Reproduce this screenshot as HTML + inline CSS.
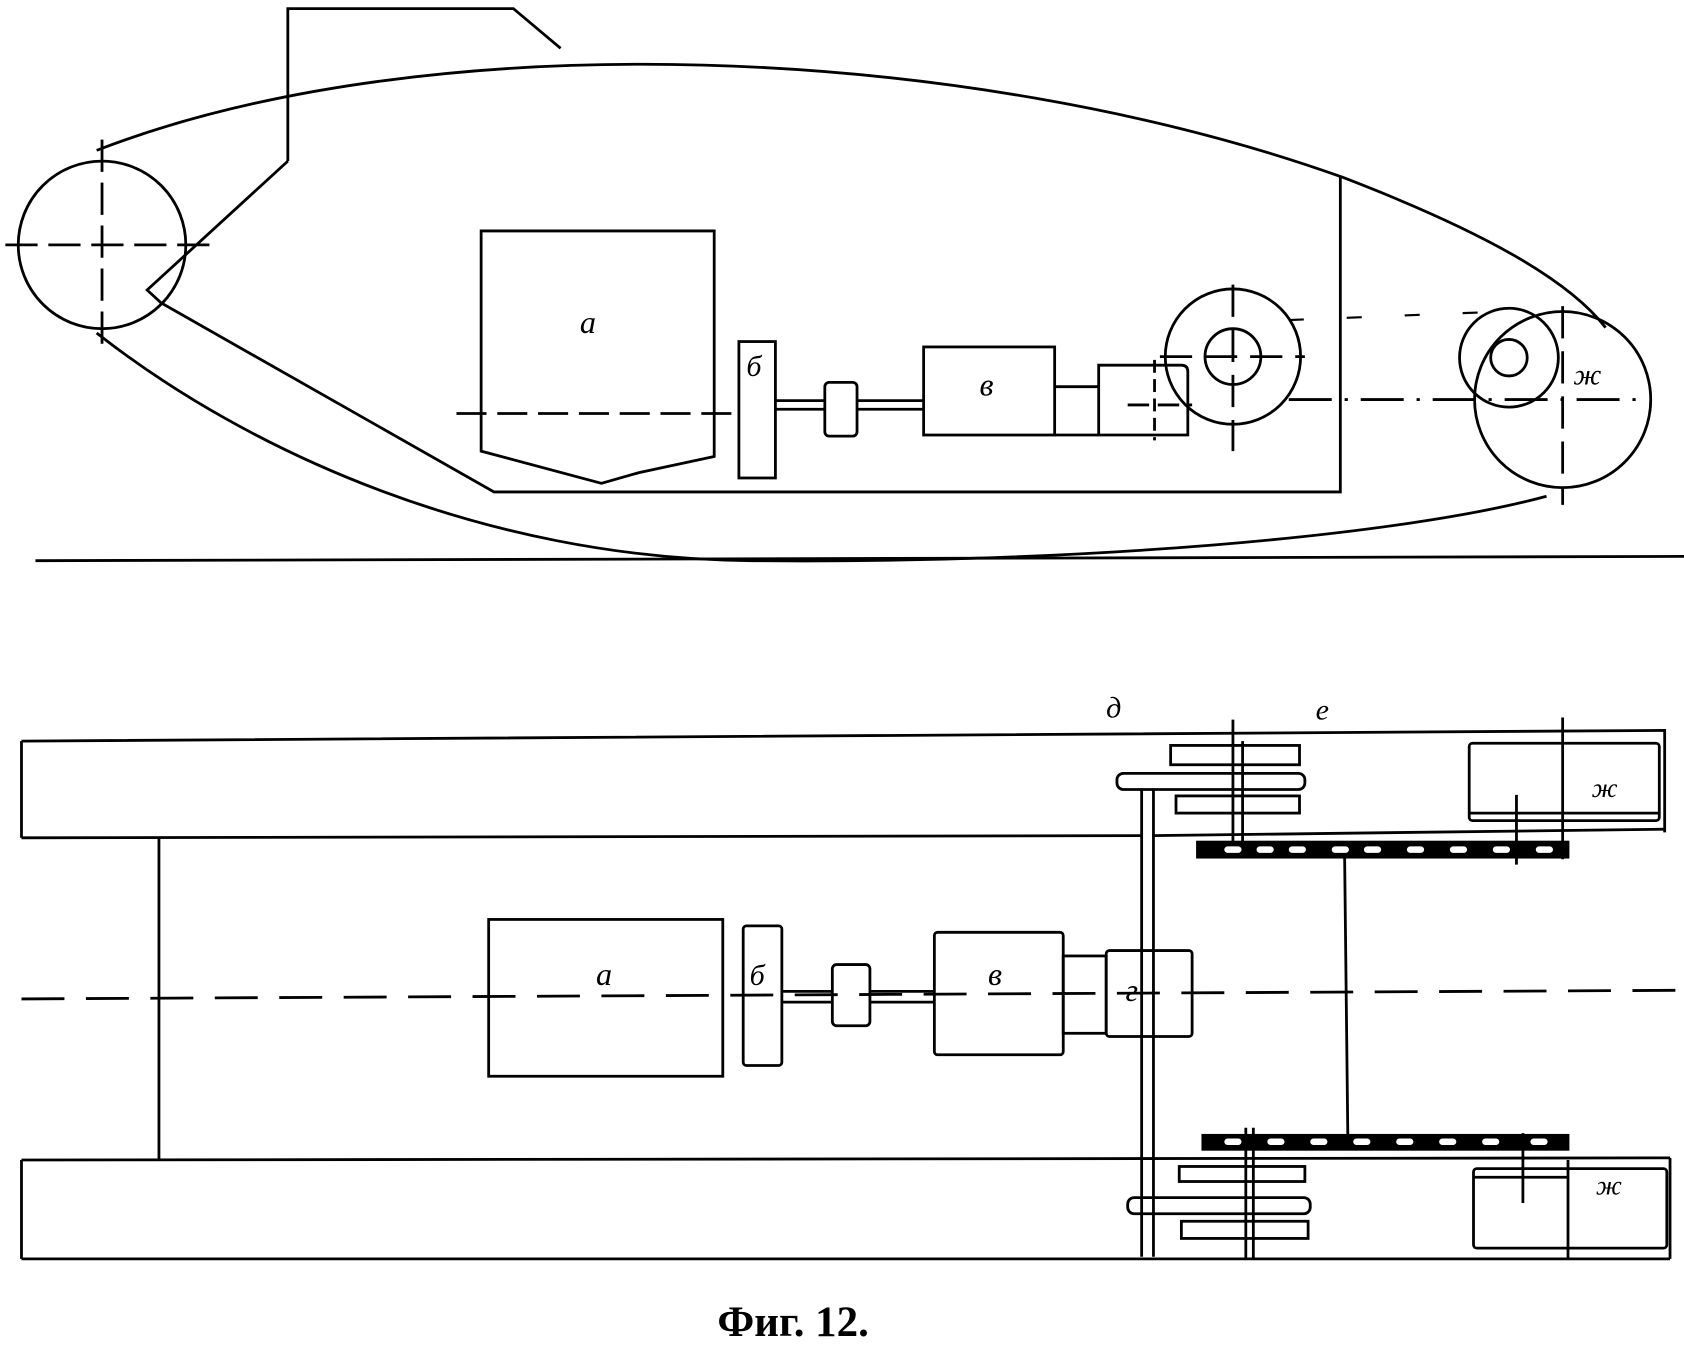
<!DOCTYPE html>
<html><head><meta charset="utf-8"><style>html,body{margin:0;padding:0;background:#fff}svg{display:block}</style></head>
<body>
<svg width="1684" height="1348" viewBox="0 0 1568 1255" preserveAspectRatio="none" xmlns="http://www.w3.org/2000/svg" font-family="Liberation Serif, serif" fill="none" stroke="#000" stroke-width="2.6">
<!-- TOP VIEW -->
<path d="M90 140 C400 20 900 40 1250 165 C1380 215 1460 260 1495 305"/>
<path d="M90 310 C230 420 450 520 700 522 C1000 525 1300 500 1440 462"/>
<circle cx="95" cy="228" r="78"/>
<line x1="5" y1="228" x2="195" y2="228" stroke-dasharray="30 10"/>
<line x1="95" y1="130" x2="95" y2="320" stroke-dasharray="30 10"/>
<path d="M268 150 V8 H478 L522 45"/>
<path d="M268 150 L137 270 L150 282 L460 458 H1248 V165"/>
<line x1="33" y1="522" x2="1568" y2="518"/>
<path d="M448 215 H665 V425 L595 440 L560 450 L448 420 Z"/>
<line x1="425" y1="385" x2="690" y2="385" stroke-dasharray="28 10"/>
<rect x="688" y="318" width="34" height="127"/>
<line x1="722" y1="373" x2="768" y2="373"/><line x1="722" y1="381" x2="768" y2="381"/>
<rect x="768" y="356" width="30" height="50" rx="4"/>
<line x1="798" y1="373" x2="860" y2="373"/><line x1="798" y1="381" x2="860" y2="381"/>
<rect x="860" y="323" width="122" height="82"/>
<line x1="982" y1="360" x2="1023" y2="360"/><line x1="982" y1="405" x2="1023" y2="405"/>
<path d="M1023 340 H1100 Q1106 340 1106 346 V405 H1023 Z"/>
<line x1="1050" y1="377" x2="1110" y2="377" stroke-dasharray="20 8"/>
<line x1="1075" y1="335" x2="1075" y2="410" stroke-dasharray="12 6"/>
<circle cx="1148" cy="332" r="63"/>
<circle cx="1148" cy="332" r="26"/>
<line x1="1080" y1="332" x2="1215" y2="332" stroke-dasharray="30 12"/>
<line x1="1148" y1="265" x2="1148" y2="420" stroke-dasharray="30 12"/>
<line x1="1200" y1="298" x2="1400" y2="290" stroke-dasharray="14 40" stroke-width="2"/>
<line x1="1200" y1="372" x2="1530" y2="372" stroke-dasharray="40 12 3 12"/>
<circle cx="1455" cy="372" r="82"/>
<circle cx="1405" cy="333" r="46"/>
<circle cx="1405" cy="333" r="17"/>
<line x1="1455" y1="285" x2="1455" y2="470" stroke-dasharray="30 12"/>
<text x="540" y="310" font-size="30" font-style="italic" fill="#000" stroke="none">a</text>
<text x="695" y="350" font-size="28" font-style="italic" fill="#000" stroke="none">б</text>
<text x="912" y="368" font-size="30" font-style="italic" fill="#000" stroke="none">в</text>
<text x="1465" y="358" font-size="28" font-style="italic" fill="#000" stroke="none">ж</text>
<!-- BOTTOM VIEW -->
<path d="M20 690 L1550 680 V775"/>
<line x1="20" y1="690" x2="20" y2="780"/>
<line x1="20" y1="780" x2="1062" y2="778"/>
<line x1="1073" y1="778" x2="1550" y2="772"/>
<line x1="20" y1="1080" x2="1555" y2="1078"/>
<line x1="20" y1="1080" x2="20" y2="1172"/>
<line x1="20" y1="1172" x2="1555" y2="1172"/>
<line x1="1555" y1="1078" x2="1555" y2="1172"/>
<line x1="148" y1="780" x2="148" y2="1080"/>
<line x1="1252" y1="798" x2="1255" y2="1060"/>
<line x1="1063" y1="735" x2="1063" y2="1170"/><line x1="1074" y1="735" x2="1074" y2="1170"/>
<line x1="20" y1="930" x2="1560" y2="922" stroke-dasharray="40 20"/>
<rect x="455" y="856" width="218" height="146"/>
<rect x="692" y="862" width="36" height="130" rx="3"/>
<line x1="728" y1="923" x2="775" y2="923"/><line x1="728" y1="933" x2="775" y2="933"/>
<rect x="775" y="898" width="35" height="57" rx="4"/>
<line x1="810" y1="923" x2="870" y2="923"/><line x1="810" y1="933" x2="870" y2="933"/>
<rect x="870" y="868" width="120" height="114" rx="3"/>
<rect x="990" y="890" width="40" height="72"/>
<rect x="1030" y="885" width="80" height="80" rx="3"/>
<rect x="1090" y="694" width="120" height="18"/>
<rect x="1040" y="720" width="175" height="15" rx="6"/>
<rect x="1095" y="741" width="115" height="16"/>
<line x1="1148" y1="670" x2="1148" y2="790"/><line x1="1157" y1="690" x2="1157" y2="790"/>
<rect x="1115" y="784" width="345" height="14" fill="#000"/>
<rect x="1368" y="692" width="177" height="72" rx="3"/>
<line x1="1368" y1="757" x2="1545" y2="757"/>
<line x1="1455" y1="668" x2="1455" y2="800"/>
<line x1="1412" y1="740" x2="1412" y2="805"/>
<rect x="1120" y="1057" width="340" height="13" fill="#000"/>
<rect x="1098" y="1086" width="117" height="14"/>
<rect x="1050" y="1115" width="170" height="15" rx="6"/>
<rect x="1100" y="1137" width="118" height="16"/>
<line x1="1160" y1="1050" x2="1160" y2="1172"/><line x1="1167" y1="1050" x2="1167" y2="1172"/>
<rect x="1372" y="1088" width="180" height="74" rx="3"/>
<line x1="1372" y1="1096" x2="1460" y2="1096"/>
<line x1="1418" y1="1055" x2="1418" y2="1120"/>
<line x1="1460" y1="1080" x2="1460" y2="1172"/>
<g fill="#fff" stroke="none">
<rect x="1140" y="788" width="16" height="6" rx="3"/><rect x="1170" y="788" width="16" height="6" rx="3"/><rect x="1200" y="788" width="16" height="6" rx="3"/><rect x="1240" y="788" width="16" height="6" rx="3"/><rect x="1270" y="788" width="16" height="6" rx="3"/><rect x="1310" y="788" width="16" height="6" rx="3"/><rect x="1350" y="788" width="16" height="6" rx="3"/><rect x="1390" y="788" width="16" height="6" rx="3"/><rect x="1430" y="788" width="16" height="6" rx="3"/>
<rect x="1140" y="1060" width="16" height="6" rx="3"/><rect x="1180" y="1060" width="16" height="6" rx="3"/><rect x="1220" y="1060" width="16" height="6" rx="3"/><rect x="1260" y="1060" width="16" height="6" rx="3"/><rect x="1300" y="1060" width="16" height="6" rx="3"/><rect x="1340" y="1060" width="16" height="6" rx="3"/><rect x="1380" y="1060" width="16" height="6" rx="3"/><rect x="1425" y="1060" width="16" height="6" rx="3"/>
</g>
<g fill="#000" stroke="none" font-style="italic">
<text x="555" y="917" font-size="30">a</text>
<text x="698" y="917" font-size="28">б</text>
<text x="920" y="917" font-size="30">в</text>
<text x="1048" y="932" font-size="30">г</text>
<text x="1030" y="668" font-size="28">д</text>
<text x="1225" y="670" font-size="28">е</text>
<text x="1482" y="742" font-size="26">ж</text>
<text x="1486" y="1112" font-size="26">ж</text>
</g>
<text x="668" y="1244" font-size="40" font-weight="bold" fill="#000" stroke="none">Фиг. 12.</text>
</svg>
</body></html>
